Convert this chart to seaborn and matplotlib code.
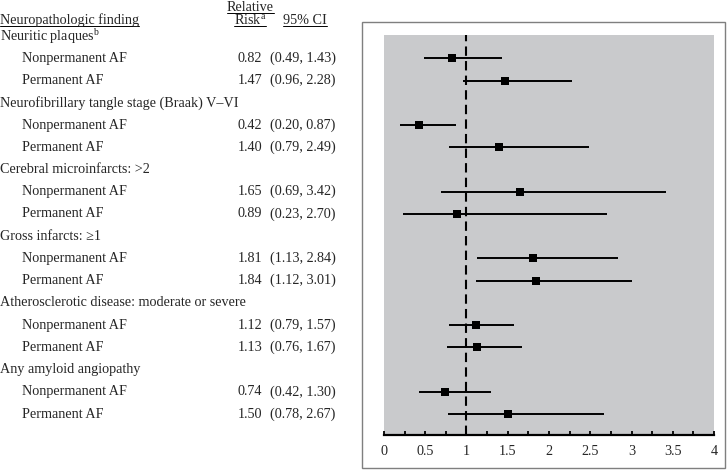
import numpy as np
import matplotlib
matplotlib.use("Agg")
import matplotlib.pyplot as plt
import matplotlib.transforms as mtransforms
from matplotlib.patches import Rectangle
from matplotlib.lines import Line2D
from matplotlib.ticker import MultipleLocator
import pandas as pd
import seaborn as sns

# data
groups = ["Neuritic plaques", "Neurofibrillary tangle stage (Braak) V\u2013VI",
          "Cerebral microinfarcts: >2", "Gross infarcts: \u22651",
          "Atherosclerotic disease: moderate or severe", "Any amyloid angiopathy"]
group_sup = ["b", "", "", "", "", ""]
subgroups = ["Nonpermanent AF", "Permanent AF"]
rr = [0.82, 1.47, 0.42, 1.40, 1.65, 0.89, 1.81, 1.84, 1.12, 1.13, 0.74, 1.50]
lo = [0.49, 0.96, 0.20, 0.79, 0.69, 0.23, 1.13, 1.12, 0.79, 0.76, 0.42, 0.78]
hi = [1.43, 2.28, 0.87, 2.49, 3.42, 2.70, 2.84, 3.01, 1.57, 1.67, 1.30, 2.67]
xticks = [0, 0.5, 1, 1.5, 2, 2.5, 3, 3.5, 4]
xtick_labels = ["0", "0.5", "1", "1.5", "2", "2.5", "3", "3.5", "4"]

sns.set_style("white")
plt.rcParams["font.family"] = ["Liberation Serif", "DejaVu Serif"]
plt.rcParams["mathtext.fontset"] = "custom"
plt.rcParams["mathtext.rm"] = "Liberation Serif"
plt.rcParams["mathtext.it"] = "Liberation Serif:italic"

# rows: header rows and two subgroup rows per group
rows = []
for g_i, g in enumerate(groups):
    for s_i, s in enumerate(subgroups):
        k = g_i * 2 + s_i
        rows.append({"group": g, "sub": s, "row": g_i * 3 + 1 + s_i,
                     "rr": rr[k], "lo": lo[k], "hi": hi[k]})
df = pd.DataFrame(rows)

W, H = 727, 470
fig = plt.figure(figsize=(W / 100, H / 100), dpi=100)
fs = 10.2

# outer frame of the plot panel
fig.patches.append(Rectangle((362 / W, 1 - 468 / H), 363 / W, 446 / H,
                             transform=fig.transFigure, fill=False,
                             edgecolor="#7f7f7f", linewidth=1.0))

ax_l, ax_r, ax_t, ax_b = 384, 714, 35, 435
ax = fig.add_axes([ax_l / W, 1 - ax_b / H, (ax_r - ax_l) / W, (ax_b - ax_t) / H])
ax.set_facecolor("#c9cacc")

ax.hlines(df["row"], df["lo"], df["hi"], color="black", linewidth=1.4, zorder=3)
sns.scatterplot(data=df, x="rr", y="row", marker="s", s=38, color="black",
                edgecolor="black", linewidth=0, ax=ax, zorder=4)
ax.axvline(1, color="black", linewidth=1.5, dashes=(4.5, 2.5), zorder=2)

ax.set_xlim(0, 4)
ax.set_ylim(17.94, -0.05)
ax.set_xticks(xticks)
ax.set_xticklabels(xtick_labels, fontsize=fs)
ax.xaxis.set_minor_locator(MultipleLocator(0.25))
ax.tick_params(axis="x", which="both", direction="in", length=3, width=1.3,
               color="black", pad=7, bottom=True)
ax.set_yticks([])
ax.set_xlabel("")
ax.set_ylabel("")
for side in ["top", "left", "right"]:
    ax.spines[side].set_visible(False)
ax.spines["bottom"].set_color("black")
ax.spines["bottom"].set_linewidth(1.6)

# table text: x in figure pixels, y in row units
trans = mtransforms.blended_transform_factory(
    mtransforms.Affine2D().scale(1 / W, 1) + fig.transFigure, ax.transData)
col_rr, col_ci = 250, 303

for g_i, g in enumerate(groups):
    label = g if not group_sup[g_i] else g + "$^{\\mathrm{" + group_sup[g_i] + "}}$"
    ax.text(0, g_i * 3, label, transform=trans, fontsize=fs, va="center",
            ha="left", clip_on=False)
for _, r in df.iterrows():
    ax.text(22, r["row"], r["sub"], transform=trans, fontsize=fs, va="center",
            ha="left", clip_on=False)
    ax.text(col_rr, r["row"], f"{r['rr']:.2f}", transform=trans, fontsize=fs,
            va="center", ha="center", clip_on=False)
    ax.text(col_ci, r["row"], f"({r['lo']:.2f}, {r['hi']:.2f})", transform=trans,
            fontsize=fs, va="center", ha="center", clip_on=False)

# header in figure pixels (baseline positions)
def ftext(x, y, s, ha):
    return fig.text(x / W, 1 - y / H, s, fontsize=fs, ha=ha, va="baseline")

bases = [24, 11, 24, 24]
heads = [ftext(0, bases[0], "Neuropathologic finding", "left"),
         ftext(col_rr, bases[1], "Relative", "center"),
         ftext(col_rr, bases[2], "Risk$^{\\mathrm{a}}$", "center"),
         ftext(col_ci + 2, bases[3], "95% CI", "center")]

fig.canvas.draw()
rend = fig.canvas.get_renderer()
for t, base in zip(heads, bases):
    bb = t.get_window_extent(renderer=rend)
    y = H - base - 2
    fig.lines.append(Line2D([bb.x0 / W, bb.x1 / W], [y / H, y / H],
                            transform=fig.transFigure, color="black",
                            linewidth=0.7))

fig.savefig("out.png", dpi=100)
